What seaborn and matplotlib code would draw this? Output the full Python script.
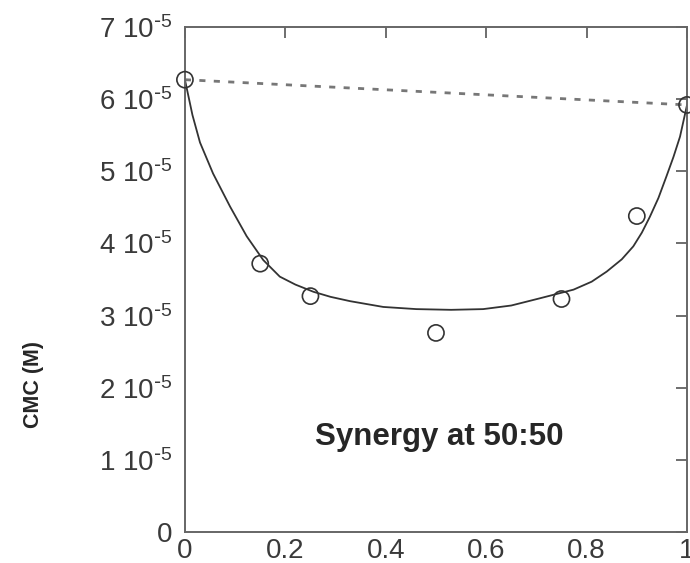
import matplotlib
matplotlib.use("Agg")
import matplotlib.pyplot as plt
import seaborn as sns
import pandas as pd

# measured CMC values (circles)
x_meas = [0.0, 0.15, 0.25, 0.50, 0.75, 0.90, 1.0]
cmc_meas = [6.27e-5, 3.72e-5, 3.27e-5, 2.76e-5, 3.23e-5, 4.38e-5, 5.92e-5]

# fitted curve
x_fit = [0.0, 0.015, 0.03, 0.056, 0.09, 0.123, 0.156, 0.189, 0.22, 0.256,
         0.29, 0.329, 0.395, 0.461, 0.53, 0.594, 0.65, 0.707, 0.774, 0.81,
         0.84, 0.87, 0.893, 0.91, 0.926, 0.943, 0.959, 0.973, 0.986, 1.0]
cmc_fit = [6.27e-5, 5.78e-5, 5.40e-5, 4.97e-5, 4.51e-5, 4.10e-5, 3.77e-5,
           3.54e-5, 3.43e-5, 3.33e-5, 3.26e-5, 3.20e-5, 3.12e-5, 3.09e-5,
           3.08e-5, 3.09e-5, 3.14e-5, 3.24e-5, 3.36e-5, 3.47e-5, 3.61e-5,
           3.78e-5, 3.96e-5, 4.15e-5, 4.37e-5, 4.63e-5, 4.93e-5, 5.20e-5,
           5.48e-5, 5.92e-5]

# ideal mixing (dotted)
x_ideal = [0.0, 1.0]
cmc_ideal = [6.27e-5, 5.92e-5]

x_ticks = [0, 0.2, 0.4, 0.6, 0.8, 1]
x_labels = ["0", "0.2", "0.4", "0.6", "0.8", "1"]
y_ticks = [0, 1e-5, 2e-5, 3e-5, 4e-5, 5e-5, 6e-5, 7e-5]
y_labels = ["0"] + [f"{i} 10$^{{\\text{{-}}5}}$" for i in range(1, 8)]

sns.set_style("white")
plt.rcParams["font.family"] = ["Liberation Sans", "DejaVu Sans"]
plt.rcParams["mathtext.default"] = "regular"

fig = plt.figure(figsize=(6.9, 5.63), dpi=100)
ax = fig.add_axes([0.268, 0.055, 0.7277, 0.897])

sns.lineplot(data=pd.DataFrame({"x": x_ideal, "y": cmc_ideal}), x="x", y="y",
             ax=ax, color="#777777", linewidth=2, linestyle=(0, (2.2, 3)))
sns.lineplot(data=pd.DataFrame({"x": x_fit, "y": cmc_fit}), x="x", y="y",
             ax=ax, color="#333333", linewidth=1.3, sort=False)
sns.scatterplot(data=pd.DataFrame({"x": x_meas, "y": cmc_meas}), x="x", y="y",
                ax=ax, s=135, facecolor="none", edgecolor="#333333",
                linewidth=1.2, zorder=3, clip_on=False)

ax.set_xlim(0, 1)
ax.set_ylim(0, 7e-5)
ax.set_xticks(x_ticks)
ax.set_xticklabels(x_labels)
ax.set_yticks(y_ticks)
ax.set_yticklabels(y_labels)
ax.tick_params(direction="in", length=8, width=1.2, color="#555555",
               labelsize=20, labelcolor="#3a3a3a", top=True, right=True)
ax.tick_params(axis="y", pad=9)
ax.tick_params(axis="x", pad=4)
for sp in ax.spines.values():
    sp.set_color("#666666")
    sp.set_linewidth(1.4)
ax.set_xlabel("")
ax.set_ylabel("")

fig.text(34 / 690, 1 - 384 / 563, "CMC (M)", rotation=90, fontsize=15.5,
         fontweight="bold", ha="center", va="center")
ax.text(0.506, 1.32e-5, "Synergy at 50:50", fontsize=22.5, fontweight="bold",
        ha="center", va="center")

fig.savefig("out.png", dpi=100)
